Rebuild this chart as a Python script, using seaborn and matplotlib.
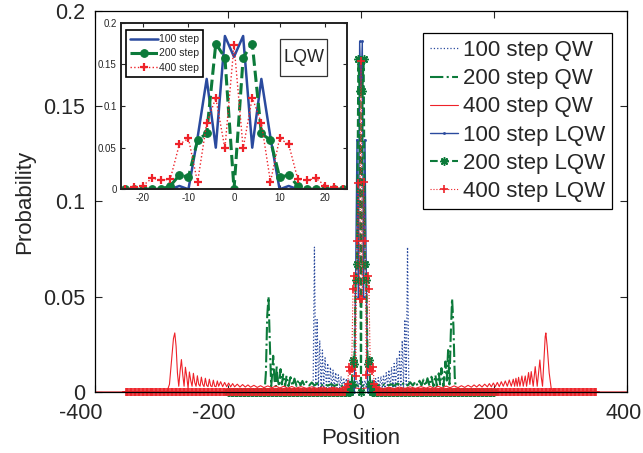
import numpy as np
import matplotlib
matplotlib.use("Agg")
import matplotlib.pyplot as plt
import matplotlib.transforms as mtransforms
import seaborn as sns
from matplotlib.patches import Rectangle

# colours
BLUE = "#2a4a9e"
GREEN = "#0c7a3a"
RED = "#ee2229"

# ---------------- QW, 400 steps (left / right halves) ----------------
qw400_left_x = [-400, -292, -288, -285, -282, -280, -278, -276, -274, -272,
                -270, -268, -266, -264, -262, -260, -258, -256, -254, -252,
                -250, -248, -246, -244, -242, -240, -238, -236, -234, -232,
                -230, -228, -226, -224, -222, -220, -218, -216, -214, -211,
                -208, -205, -202, -199, -196, -193, -190, -186, -182, -178,
                -174, -170, -166, -161, -156, -151, -146, -140, -134, -128,
                -122, -116, -110, -104, -98, -90, -82, -74, -66, -58,
                -50, -42, -34, -26, -18, -10, -2]
qw400_left_p = [0, 0, 0.004, 0.016, 0.028, 0.031, 0.024, 0.010, 0.003, 0.011,
                0.017, 0.009, 0.003, 0.013, 0.008, 0.002, 0.0105, 0.006, 0.003, 0.0098,
                0.005, 0.003, 0.0085, 0.004, 0.003, 0.0078, 0.004, 0.0028, 0.0072, 0.0035,
                0.0028, 0.0067, 0.0032, 0.0028, 0.0062, 0.003, 0.0028, 0.0058, 0.003, 0.0054,
                0.0028, 0.005, 0.0028, 0.0047, 0.0027, 0.0044, 0.0027, 0.0041, 0.0026, 0.0039,
                0.0026, 0.0037, 0.0025, 0.0035, 0.0024, 0.0033, 0.0023, 0.0032, 0.0022, 0.0031,
                0.0021, 0.003, 0.002, 0.0029, 0.002, 0.0028, 0.0019, 0.0027, 0.0019, 0.0026,
                0.0018, 0.0025, 0.0018, 0.0024, 0.0017, 0.0023, 0.0017]
qw400_right_x = [2, 10, 18, 26, 34, 42, 50, 58, 66, 74,
                 82, 90, 98, 104, 110, 116, 122, 128, 134, 140,
                 146, 151, 156, 161, 166, 170, 174, 178, 182, 186,
                 190, 193, 196, 199, 202, 205, 208, 211, 214, 217,
                 220, 223, 226, 229, 231, 233, 235, 237, 239, 242,
                 244, 247, 249, 252, 254, 256, 259, 262, 265, 267,
                 269, 271, 273, 275, 277, 278, 280, 283, 286, 289, 400]
qw400_right_p = [0.0017, 0.0023, 0.0017, 0.0024, 0.0018, 0.0025, 0.0018, 0.0026, 0.0019, 0.0027,
                 0.0019, 0.0028, 0.002, 0.0029, 0.002, 0.003, 0.0021, 0.0031, 0.0022, 0.0032,
                 0.0023, 0.0033, 0.0024, 0.0035, 0.0025, 0.0037, 0.0026, 0.0039, 0.0026, 0.0041,
                 0.0027, 0.0044, 0.0027, 0.0047, 0.0028, 0.005, 0.0028, 0.0054, 0.003, 0.0058,
                 0.003, 0.0063, 0.003, 0.0067, 0.003, 0.0072, 0.003, 0.0077, 0.003, 0.0084,
                 0.003, 0.0084, 0.003, 0.0102, 0.004, 0.0107, 0.003, 0.0133, 0.003, 0.010,
                 0.0168, 0.008, 0.003, 0.016, 0.029, 0.031, 0.024, 0.010, 0.002, 0, 0]

# ---------------- QW, 200 steps ----------------
qw200_left_x = [-200, -145, -143, -141, -139, -137, -135, -133, -132, -130,
                -128, -127, -125, -123, -121, -119, -117, -114, -112, -109,
                -106, -103, -100, -97, -94, -91, -88, -85, -82, -78,
                -74, -70, -65, -60, -55, -50, -45, -40, -35, -30,
                -25, -20, -15, -10, -5, 0]
qw200_left_p = [0, 0, 0.010, 0.040, 0.050, 0.025, 0.003, 0.012, 0.019, 0.006,
                0.003, 0.0137, 0.006, 0.003, 0.012, 0.004, 0.0092, 0.003, 0.0085, 0.003,
                0.0078, 0.0032, 0.007, 0.0032, 0.0064, 0.0034, 0.0058, 0.0034, 0.0054, 0.0034,
                0.005, 0.0034, 0.0046, 0.0034, 0.0043, 0.0033, 0.0041, 0.0032, 0.0039, 0.0031,
                0.0037, 0.003, 0.0036, 0.003, 0.0035, 0.003]
qw200_right_x = [5, 10, 15, 20, 25, 30, 35, 40, 45, 50,
                 55, 60, 65, 70, 74, 78, 82, 85, 88, 91,
                 94, 97, 100, 103, 106, 109, 112, 114, 117, 119,
                 121, 124, 127, 129, 131, 133, 135, 137, 139, 141,
                 143, 200]
qw200_right_p = [0.0035, 0.003, 0.0036, 0.003, 0.0037, 0.0031, 0.0039, 0.0032, 0.0041, 0.0033,
                 0.0044, 0.0034, 0.0047, 0.0034, 0.0051, 0.0034, 0.0055, 0.0034, 0.0059, 0.0034,
                 0.0065, 0.0032, 0.0072, 0.0032, 0.008, 0.003, 0.0088, 0.003, 0.0098, 0.004,
                 0.0125, 0.003, 0.016, 0.006, 0.022, 0.004, 0.030, 0.049, 0.035, 0.008,
                 0, 0]

# ---------------- QW, 100 steps ----------------
qw100_left_x = [-100, -72, -70, -68, -66, -64, -62, -60, -58, -56,
                -54, -52, -50, -48, -46, -44, -42, -40, -38, -36,
                -34, -32, -30, -28, -26, -24, -22, -20, -18, -16,
                -14, -12, -10, -8, -6, -4, -2]
qw100_left_p = [0, 0, 0.076, 0.004, 0.038, 0.002, 0.027, 0.002, 0.022, 0.002,
                0.018, 0.002, 0.015, 0.002, 0.013, 0.002, 0.0115, 0.002, 0.0102, 0.002,
                0.009, 0.002, 0.0082, 0.002, 0.0075, 0.002, 0.007, 0.002, 0.0066, 0.002,
                0.0064, 0.002, 0.0062, 0.002, 0.006, 0.002, 0.006]
qw100_right_x = [0, 2, 4, 6, 8, 10, 12, 14, 16, 18,
                 20, 22, 24, 26, 28, 30, 32, 34, 36, 38,
                 40, 42, 44, 46, 48, 50, 52, 54, 56, 58,
                 60, 62, 64, 66, 68, 70, 72, 100]
qw100_right_p = [0.002, 0.006, 0.002, 0.006, 0.002, 0.0062, 0.002, 0.0064, 0.002, 0.0066,
                 0.002, 0.007, 0.002, 0.0075, 0.002, 0.0082, 0.002, 0.009, 0.002, 0.0102,
                 0.002, 0.0115, 0.002, 0.013, 0.002, 0.015, 0.002, 0.018, 0.002, 0.022,
                 0.002, 0.027, 0.002, 0.038, 0.004, 0.076, 0, 0]

# ---------------- LQW (centre values, zero elsewhere) ----------------
lqw_x = [-24, -22, -20, -18, -16, -14, -12, -10, -8, -6, -4, -2, 0,
         2, 4, 6, 8, 10, 12, 14, 16, 18, 20, 22, 24]
lqw100_p = [0, 0, 0, 0, 0, 0, 0.004, 0, 0.062, 0.1325, 0.050, 0.184, 0.159,
            0.184, 0.050, 0.1325, 0.062, 0, 0.004, 0, 0, 0, 0, 0, 0]
lqw200_p = [0, 0, 0, 0, 0, 0.004, 0.017, 0.0145, 0.059, 0.067, 0.175, 0.158, 0,
            0.158, 0.175, 0.067, 0.059, 0.0145, 0.017, 0.004, 0, 0, 0, 0, 0]
lqw400_p = [0, 0.0024, 0.0044, 0.0133, 0.0112, 0.012, 0.054, 0.061, 0.0084, 0.0795, 0.1096, 0.049, 0.1735,
            0.049, 0.110, 0.0795, 0.009, 0.061, 0.054, 0.012, 0.011, 0.013, 0.0044, 0.0024, 0]
# half width of the position range each LQW run was plotted over
lqw100_span = 100
lqw200_span = 200
lqw400_span = 354

main_xticks = [-400, -200, 0, 200, 400]
yticks = [0, 0.05, 0.1, 0.15, 0.2]
ytick_labels = ["0", "0.05", "0.1", "0.15", "0.2"]
inset_xticks = [-20, -10, 0, 10, 20]


def full_lqw(span, centre):
    pos = np.arange(-span, span + 1, 2)
    prob = np.zeros(len(pos))
    prob[np.searchsorted(pos, lqw_x)] = centre
    return pos, prob


sns.set_style("ticks")
plt.rcParams["font.family"] = ["Liberation Sans", "DejaVu Sans"]
plt.rcParams["axes.unicode_minus"] = False

fig = plt.figure(figsize=(6.43, 4.53), dpi=100)
ax = fig.add_axes([0.1477, 0.1347, 0.8274, 0.8411])

qw_style = dict(estimator=None, sort=False, ax=ax)
h_qw100 = sns.lineplot(x=qw100_left_x + qw100_right_x, y=qw100_left_p + qw100_right_p,
                       color=BLUE, linestyle=":", linewidth=0.9, **qw_style).lines[-1]
h_qw200 = sns.lineplot(x=qw200_left_x + qw200_right_x, y=qw200_left_p + qw200_right_p,
                       color=GREEN, linestyle="-.", linewidth=1.5, **qw_style).lines[-1]
h_qw400 = sns.lineplot(x=qw400_left_x + qw400_right_x, y=qw400_left_p + qw400_right_p,
                       color=RED, linestyle="-", linewidth=0.8, **qw_style).lines[-1]

x1, p1 = full_lqw(lqw100_span, lqw100_p)
x2, p2 = full_lqw(lqw200_span, lqw200_p)
x4, p4 = full_lqw(lqw400_span, lqw400_p)
h_l100 = sns.lineplot(x=x1, y=p1, color=BLUE, linestyle="-", linewidth=1.0, marker=".",
                      markersize=3, markeredgecolor=BLUE, markeredgewidth=0.5,
                      clip_on=False, **qw_style).lines[-1]
h_l200 = sns.lineplot(x=x2, y=p2, color=GREEN, linestyle="--", linewidth=1.5, marker=(8, 2, 0),
                      markersize=6, markeredgecolor=GREEN, markeredgewidth=1.1,
                      clip_on=False, **qw_style).lines[-1]
h_l400 = sns.lineplot(x=x4, y=p4, color=RED, linestyle=":", linewidth=0.8, marker="+",
                      markersize=5.5, markeredgecolor=RED, markeredgewidth=1.2,
                      clip_on=False, **qw_style).lines[-1]

ax.set_xlim(-400, 400)
ax.set_ylim(0, 0.2)
ax.set_xticks(main_xticks)
ax.set_yticks(yticks)
ax.set_yticklabels(ytick_labels)
ax.tick_params(direction="in", top=True, right=True, length=5, width=0.8,
               labelsize=15.5, pad=7)
ax.tick_params(axis="x", pad=8)
# the original's x tick labels sit a little left of their ticks
for lab, tk in zip(ax.get_xticklabels(), main_xticks):
    dx = -14 if tk < 0 else -3
    lab.set_transform(lab.get_transform()
                      + mtransforms.ScaledTranslation(dx / 100, 0, fig.dpi_scale_trans))
for s in ax.spines.values():
    s.set_linewidth(0.9)
    s.set_color("black")
ax.set_xlabel("Position", fontsize=16, labelpad=3)
ax.set_ylabel("Probability", fontsize=16, labelpad=6)

ax.legend([h_qw100, h_qw200, h_qw400, h_l100, h_l200, h_l400],
          ["100 step QW", "200 step QW", "400 step QW",
           "100 step LQW", "200 step LQW", "400 step LQW"],
          loc="upper left", bbox_to_anchor=(0.617, 0.942), borderaxespad=0,
          fontsize=16, handlelength=1.25, handletextpad=0.2, labelspacing=0.32,
          borderpad=0.32, frameon=True, fancybox=False, edgecolor="black",
          framealpha=1)
ax.get_legend().get_frame().set_linewidth(0.9)

# ---------------- inset ----------------
ins = fig.add_axes([0.1882, 0.5821, 0.3515, 0.3678])
in_style = dict(estimator=None, sort=False, ax=ins)
sns.lineplot(x=lqw_x, y=lqw100_p, color=BLUE, linestyle="-", linewidth=1.8,
             label="100 step", **in_style)
sns.lineplot(x=lqw_x, y=lqw200_p, color=GREEN, linestyle="--", linewidth=2.2, marker="o",
             markersize=5.5, markeredgecolor=GREEN, markeredgewidth=0.8,
             label="200 step", **in_style)
sns.lineplot(x=lqw_x, y=lqw400_p, color=RED, linestyle=":", linewidth=1.0, marker="+",
             markersize=5.5, markeredgecolor=RED, markeredgewidth=1.6,
             label="400 step", **in_style)
ins.set_xlim(-24.8, 24.8)
ins.set_ylim(0, 0.2)
ins.set_xticks(inset_xticks)
ins.set_yticks(yticks)
ins.set_yticklabels(ytick_labels)
ins.tick_params(direction="in", top=True, right=True, length=3, width=0.8,
                labelsize=7, pad=3)
for s in ins.spines.values():
    s.set_linewidth(1.4)
    s.set_color("#222222")
ins.legend(loc="upper left", bbox_to_anchor=(0.022, 0.956), borderaxespad=0,
           fontsize=7.5, handlelength=2.7, handletextpad=0.1, labelspacing=0.4,
           borderpad=0.4, fancybox=False, edgecolor="black", framealpha=1)
ins.get_legend().get_frame().set_linewidth(1.2)
ins.add_patch(Rectangle((0.704, 0.68), 0.208, 0.222, transform=ins.transAxes,
                        facecolor="white", edgecolor="#333333", linewidth=0.9))
ins.text(0.808, 0.79, "LQW", transform=ins.transAxes, ha="center", va="center",
         fontsize=13)

fig.savefig("out.png", dpi=100)
